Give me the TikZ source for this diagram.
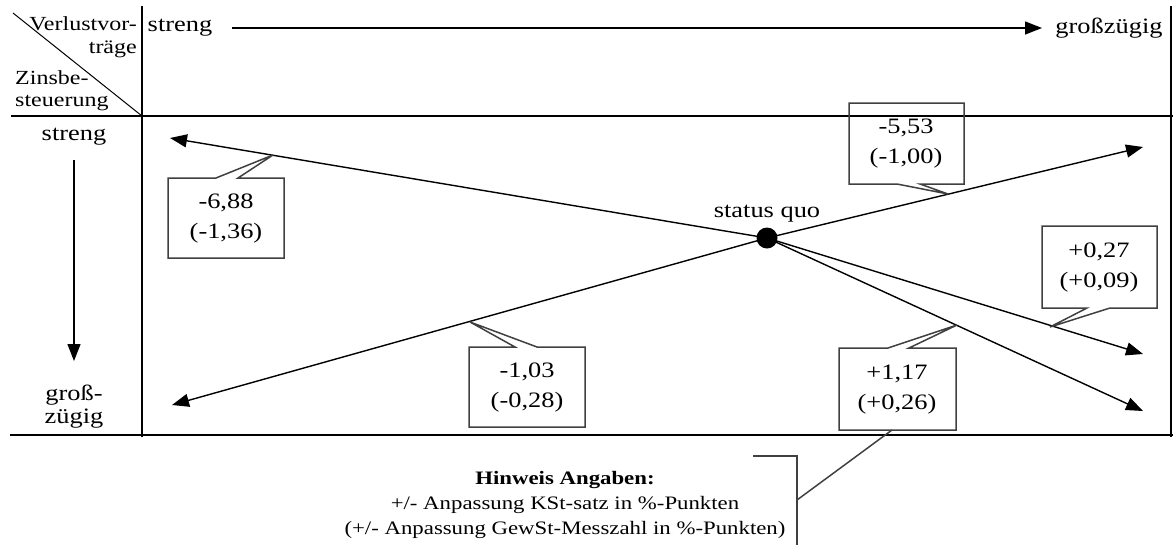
\documentclass[tikz,border=0pt]{standalone}
\usepackage{fontspec}
\setmainfont{Liberation Serif}[FakeStretch=1.2]
\newfontfamily\smallfont{Liberation Serif}[FakeStretch=1.2]
\usetikzlibrary{arrows.meta}
\begin{document}
\begin{tikzpicture}[x=1pt,y=-1pt,
  rule/.style={line width=1.5pt},
  arr/.style={line width=1.4pt,-{Triangle[length=17pt,width=13pt]}},
  mainfont/.style={font=\fontsize{22}{30}\selectfont,inner sep=0pt},
  smallfnt/.style={font=\smallfont\fontsize{20}{22}\selectfont,inner sep=0pt},
  callout/.style={draw=black!75,line width=1.5pt,line join=miter},
  val/.style={mainfont,align=center},
]
\useasboundingbox (0,0) rectangle (1173,544);

% table rules
\draw[rule] (142,6) -- (142,437);
\draw[rule] (1171,6) -- (1171,437);
\draw[rule] (11,116) -- (1173,116);
\draw[rule] (10,435) -- (1173,435);
\draw[line width=1pt] (13,13) -- (142,116);

% corner labels
\node[smallfnt,anchor=east] (vv) at (137,24) {Verlustvor-};
\node[smallfnt,anchor=east] (tr) at (137,49) {träge};
\node[smallfnt,anchor=west] (zb) at (15,78) {Zinsbe-};
\node[smallfnt,anchor=west] (st) at (15,103) {steuerung};

% top axis
\node[mainfont] (ts) at (180,28) {streng};
\node[mainfont] (tg) at (1109,28) {großzügig};
\coordinate (ta1) at (232,28);
\coordinate (ta2) at (1042,28);
\draw[arr] (ta1) -- (ta2);

% left axis
\node[mainfont] (ls) at (74,137) {streng};
\node[align=center,inner sep=0pt,font=\fontsize{22}{23}\selectfont] (lg) at (74,407) {groß-\\zügig};
\coordinate (la1) at (74,160);
\coordinate (la2) at (74,361);
\draw[arr] (la1) -- (la2);

% status quo and arrows
\coordinate (p1) at (170,138);
\coordinate (p2) at (1143,147);
\coordinate (p3) at (172,405);
\coordinate (p4) at (1143,354);
\coordinate (p5) at (1143,411);
\node[circle,fill=black,minimum size=21pt,inner sep=0pt] (sq) at (767,238) {};
\node[mainfont] (sqt) at (767,214) {status quo};
\draw[arr] (sq.center) -- (p1);
\draw[arr] (sq.center) -- (p2);
\draw[arr] (sq.center) -- (p3);
\draw[arr] (sq.center) -- (p4);
\draw[arr] (sq.center) -- (p5);

% callouts
\draw[callout] (168,178) -- (216,178) -- (273,155) -- (238,178) -- (284,178) -- (284,258) -- (168,258) -- cycle;
\node[val] (ca) at (226,219) {-6,88\\(-1,36)};

\draw[callout] (849,103) -- (964,103) -- (964,184) -- (920,184) -- (948,194) -- (897,184) -- (849,184) -- cycle;
\node[val] (cb) at (906,144) {-5,53\\(-1,00)};

\draw[callout] (1042,226) -- (1157,226) -- (1157,308) -- (1110,308) -- (1050,327) -- (1087,308) -- (1042,308) -- cycle;
\node[val] (cc) at (1099,268) {+0,27\\(+0,09)};

\draw[callout] (839,348) -- (888,348) -- (957,325) -- (909,348) -- (956,348) -- (956,430) -- (839,430) -- cycle;
\node[val] (cd) at (897,390) {+1,17\\(+0,26)};
\coordinate (cdb) at (892,430);

\draw[callout] (469,347) -- (515,347) -- (470,322) -- (537,347) -- (585,347) -- (585,427) -- (469,427) -- cycle;
\node[val] (ce) at (527,388) {-1,03\\(-0,28)};

% note
\node[align=center,inner sep=0pt,font=\smallfont\fontsize{19}{25}\selectfont] (hw) at (565,505)
  {{\bfseries Hinweis Angaben:}\\+/- Anpassung KSt-satz in \%-Punkten\\(+/- Anpassung GewSt-Messzahl in \%-Punkten)};
\coordinate (hb1) at (753,456);
\coordinate (hb2) at (797,456);
\coordinate (hb3) at (797,546);
\coordinate (hb4) at (797,500);
\draw[callout] (hb1) -- (hb2) -- (hb3);
\draw[callout] (hb4) -- (cdb);
\end{tikzpicture}
\end{document}
